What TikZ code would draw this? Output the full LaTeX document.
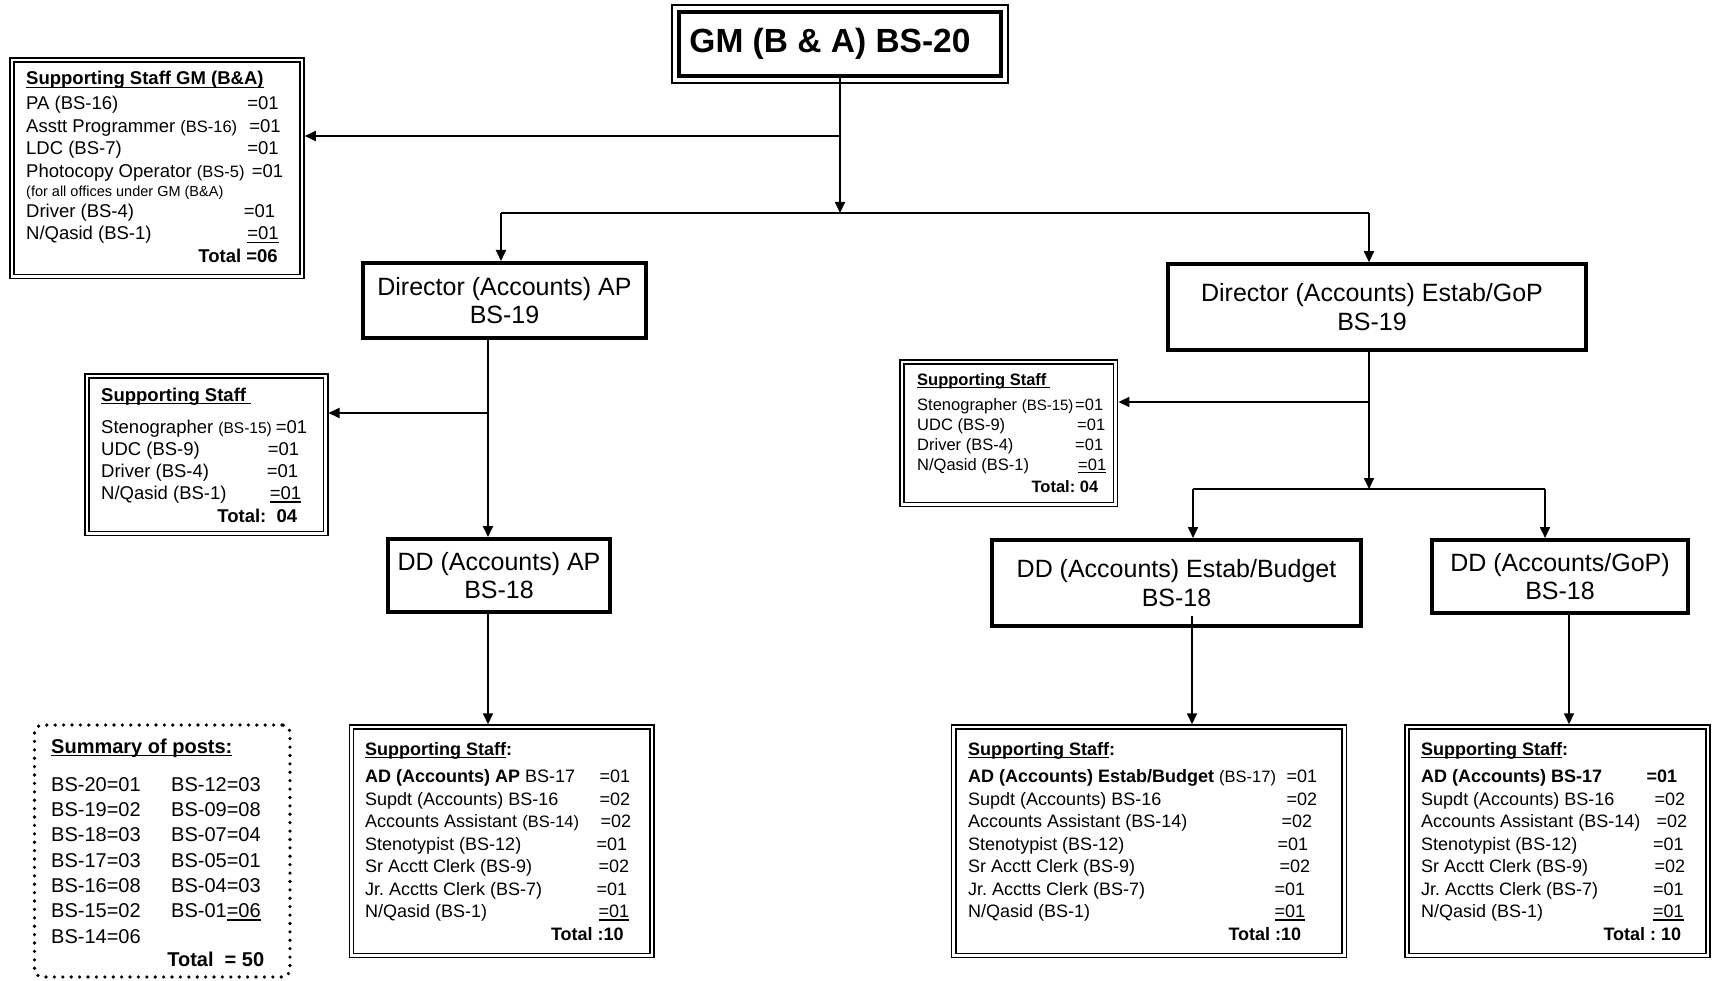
\documentclass[tikz,border=0pt]{standalone}
\usepackage{fontspec}
\setmainfont{Liberation Sans}
\usetikzlibrary{arrows.meta,calc,fit}
\newsavebox{\ulbx}
\newcommand\myul[1]{\sbox\ulbx{#1}\rlap{\rule[-3pt]{\wd\ulbx}{1.4pt}}\usebox\ulbx}
\newcommand\smt[2][16.5]{{\fontsize{#1}{#1}\selectfont #2}}
\tikzset{
  hd/.style={draw, line width=4pt, inner sep=0pt, outer sep=2pt, align=center,
    font=\fontsize{25}{28.5}\selectfont},
  sbox/.style={draw, double, double distance=2.6pt, line width=1.5pt, inner sep=0pt, outer sep=2.8pt},
  stxt/.style={anchor=base west, inner sep=0pt, align=flush left},
  arr/.style={line width=1.8pt, -{Triangle[length=11pt,width=10pt]}},
  ln/.style={line width=1.8pt},
}
\begin{document}
\frenchspacing
\begin{tikzpicture}[x=1pt,y=-1pt]
\useasboundingbox (0,0) rectangle (1712,981);
% ---------- top box
\node[draw, line width=4pt, inner sep=0pt, outer sep=2pt, minimum width=322pt, minimum height=64pt,
  font=\bfseries\fontsize{33.5}{40}\selectfont] (gm) at (840,44)
  {\hspace*{-20pt}\raisebox{6pt}{GM (B \& A) BS-20}};
\node[draw, line width=1.4pt, inner sep=5pt, outer sep=0pt, fit=(gm)] (gmo) {};
% ---------- head boxes
\node[hd, minimum width=283pt, minimum height=75pt] (dap) at (504.5,300.5) {Director (Accounts) AP\\BS-19};
\node[hd, minimum width=418pt, minimum height=85.5pt] (dest) at (1377,307) {Director (Accounts) Estab/GoP\hspace*{10pt}\\BS-19\hspace*{10pt}};
\node[hd, minimum width=222pt, minimum height=73pt] (ddap) at (499,575.5) {DD (Accounts) AP\\BS-18};
\node[hd, minimum width=369pt, minimum height=86pt] (ddest) at (1176.5,583) {DD (Accounts) Estab/Budget\\BS-18};
\node[hd, minimum width=256pt, minimum height=73pt] (ddgop) at (1560,576.5) {DD (Accounts/GoP)\\BS-18};
% ---------- staff boxes
\node[sbox, minimum width=290pt, minimum height=216.5pt] (gmsf) at (157,168.25) {};
\node[stxt, text width=257pt, font=\fontsize{18.5}{22.5}\selectfont] (gmsft) at (26,85) {%
\myul{\textbf{Supporting Staff GM (B\&A)}}\\[2.5pt]
PA (BS-16)\hfill=01\kern4.5pt\\
Asstt Programmer \smt{(BS-16)}\hfill=01\kern2.5pt\\
LDC (BS-7)\hfill=01\kern4.5pt\\
Photocopy Operator \smt{(BS-5)}\hfill=01\\[-3.5pt]
\smt[14.5]{(for all offices under GM (B\&A)}\\[-1.5pt]
Driver (BS-4)\hfill=01\kern8pt\\
N/Qasid (BS-1)\hfill\myul{=01}\kern4.5pt\\
\mbox{}\hfill\textbf{Total =06}\kern5.5pt};

\node[sbox, minimum width=238.7pt, minimum height=157.7pt] (apsf) at (206.35,454.8) {};
\node[stxt, text width=206pt, font=\fontsize{18.5}{22.2}\selectfont] (apsft) at (101,401) {%
\myul{\textbf{Supporting Staff}\hspace{5pt}}\\[10pt]
Stenographer \smt[15.5]{(BS-15)}\hfill=01\\
UDC (BS-9)\hfill=01\kern8pt\\
Driver (BS-4)\hfill=01\kern9pt\\
N/Qasid (BS-1)\hfill\myul{=01}\kern6pt\\
\mbox{}\hfill\textbf{Total:\ \ 04}\kern10pt};

\node[sbox, minimum width=213.7pt, minimum height=142.7pt] (estsf) at (1008.8,433.3) {};
\node[stxt, text width=189pt, font=\fontsize{16.5}{20}\selectfont] (estsft) at (917,385) {%
\myul{\textbf{Supporting Staff}\hspace{4pt}}\\[5pt]
Stenographer \smt[15]{(BS-15)}\hfill=01\kern3pt\\
UDC (BS-9)\hfill=01\kern1pt\\
Driver (BS-4)\hfill=01\kern3pt\\
N/Qasid (BS-1)\hfill\myul{=01}\\[2pt]
\mbox{}\hfill\textbf{Total: 04}\kern8pt};

\node[sbox, minimum width=300.7pt, minimum height=228.3pt] (apst) at (501.7,841.2) {};
\node[stxt, text width=266pt, font=\fontsize{18}{22.5}\selectfont] (apstt) at (365,755) {%
\myul{\textbf{Supporting Staff}}\textbf{:}\\[5pt]
\textbf{AD (Accounts) AP} BS-17\hfill=01\kern1pt\\
Supdt (Accounts) BS-16\hfill=02\kern1pt\\
Accounts Assistant \smt{(BS-14)}\hfill=02\\
Stenotypist (BS-12)\hfill=01\kern4pt\\
Sr Acctt Clerk (BS-9)\hfill=02\kern2pt\\
Jr. Acctts Clerk (BS-7)\hfill=01\kern4pt\\
N/Qasid (BS-1)\hfill\myul{=01}\kern2pt\\
\mbox{}\hfill\textbf{Total :10}\kern7.5pt};

\node[sbox, minimum width=390.5pt, minimum height=228.3pt] (estst) at (1149,841.2) {};
\node[stxt, text width=349pt, font=\fontsize{18}{22.5}\selectfont] (esttt) at (968,755) {%
\myul{\textbf{Supporting Staff}}\textbf{:}\\[5pt]
\textbf{AD (Accounts) Estab/Budget} \smt{(BS-17)}\hfill=01\\
Supdt (Accounts) BS-16\hfill=02\\
Accounts Assistant (BS-14)\hfill=02\kern5pt\\
Stenotypist (BS-12)\hfill=01\kern9pt\\
Sr Acctt Clerk (BS-9)\hfill=02\kern7pt\\
Jr. Acctts Clerk (BS-7)\hfill=01\kern12pt\\
N/Qasid (BS-1)\hfill\myul{=01}\kern12pt\\
\mbox{}\hfill\textbf{Total :10}\kern16pt};

\node[sbox, minimum width=301pt, minimum height=228.3pt] (gopst) at (1557.5,841.2) {};
\node[stxt, text width=266pt, font=\fontsize{18}{22.5}\selectfont] (gopstt) at (1421,755) {%
\myul{\textbf{Supporting Staff}}\textbf{:}\\[5pt]
\textbf{AD (Accounts) BS-17\hfill=01}\kern10pt\\
Supdt (Accounts) BS-16\hfill=02\kern2pt\\
Accounts Assistant (BS-14)\hfill=02\\
Stenotypist (BS-12)\hfill=01\kern3.5pt\\
Sr Acctt Clerk (BS-9)\hfill=02\kern2pt\\
Jr. Acctts Clerk (BS-7)\hfill=01\kern3.5pt\\
N/Qasid (BS-1)\hfill\myul{=01}\kern3.5pt\\
\mbox{}\hfill\textbf{Total : 10}\kern6pt};

% ---------- summary
\node[draw, line width=3.6pt, dash pattern=on 0pt off 8.4pt, line cap=round, rounded corners=8pt,
  minimum width=255.5pt, minimum height=252pt, inner sep=0pt] (summ) at (162.25,851) {};
\node[stxt, text width=213pt, font=\fontsize{20}{25.3}\selectfont] (summt) at (51,753) {%
\myul{\textbf{Summary of posts:}}\\[13pt]
\makebox[120pt][l]{BS-20=01}BS-12=03\\
\makebox[120pt][l]{BS-19=02}BS-09=08\\
\makebox[120pt][l]{BS-18=03}BS-07=04\\
\makebox[120pt][l]{BS-17=03}BS-05=01\\
\makebox[120pt][l]{BS-16=08}BS-04=03\\
\makebox[120pt][l]{BS-15=02}BS-01\myul{=06}\\
BS-14=06\\[-1.5pt]
\mbox{}\hfill\textbf{Total\ \ = 50}};

% ---------- connectors
\coordinate (jgm) at (840,136);
\coordinate (hl) at (501,213);
\coordinate (hr) at (1369,213);
\draw[arr] (gm.south) -- (gm.south |- hl);
\draw[arr] (jgm) -- (jgm -| gmsf.east);
\draw[ln] (hl) -- (hr);
\draw[arr] (hl) -- (hl |- dap.north);
\draw[arr] (hr) -- (hr |- dest.north);

\coordinate (japs) at (488,413);
\draw[arr] (dap.south -| japs) -- (ddap.north -| japs);
\draw[arr] (japs) -- (japs -| apsf.east);
\draw[arr] (ddap.south -| japs) -- (apst.north -| japs);

\coordinate (jes) at (1369,402);
\coordinate (hl2) at (1193,489);
\coordinate (hr2) at (1545,489);
\draw[arr] (dest.south -| jes) -- (jes |- hl2);
\draw[arr] (jes) -- (jes -| estsf.east);
\draw[ln] (hl2) -- (hr2);
\draw[arr] (hl2) -- (hl2 |- ddest.north);
\draw[arr] (hr2) -- (hr2 |- ddgop.north);

\coordinate (dde) at (1192,616);
\draw[arr] (dde) -- (dde |- estst.north);
\coordinate (ddg) at (1569,613);
\draw[arr] (ddgop.south -| ddg) -- (gopst.north -| ddg);
\end{tikzpicture}
\end{document}
